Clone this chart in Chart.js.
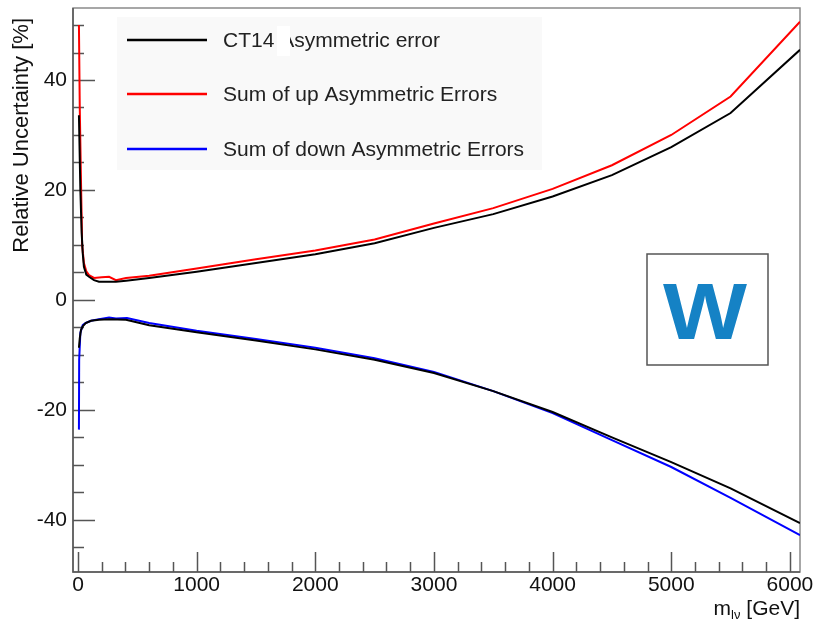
<!DOCTYPE html>
<html>
<head>
<meta charset="utf-8">
<script src="https://cdn.jsdelivr.net/npm/chart.js@4.4.1/dist/chart.umd.min.js"></script>
<style>
    html, body { margin: 0; padding: 0; background: #fff; }
    #wrap { width: 814px; height: 623px; }
</style>
</head>
<body>
<div id="wrap"><canvas id="chart"></canvas></div>
<script>
// Series data (x in GeV, y in %)
const ct14UpX   = [8, 20, 31, 40, 50, 70, 93, 135, 177, 250, 320, 405, 600, 1000, 1500, 2000, 2500, 3000, 3500, 4000, 4500, 5000, 5500, 6085];
const ct14UpY   = [33.6, 20.0, 12.2, 8.5, 6.0, 4.6, 4.2, 3.6, 3.3, 3.3, 3.3, 3.5, 4.0, 5.1, 6.7, 8.3, 10.3, 13.1, 15.6, 18.8, 22.7, 27.8, 34.0, 45.5];
const ct14DownX = [8, 15, 25, 40, 65, 110, 177, 262, 405, 600, 1000, 1500, 2000, 2500, 3000, 3500, 4000, 4500, 5000, 5500, 6085];
const ct14DownY = [-8.7, -7.0, -5.5, -4.8, -4.2, -3.8, -3.6, -3.5, -3.6, -4.6, -5.9, -7.4, -9.0, -10.9, -13.3, -16.6, -20.4, -25.0, -29.5, -34.3, -40.6];
const sumUpX    = [8, 15, 25, 35, 50, 70, 93, 135, 200, 262, 320, 405, 600, 1000, 1500, 2000, 2500, 3000, 3500, 4000, 4500, 5000, 5500, 6085];
const sumUpY    = [50.0, 35.0, 22.0, 10.0, 6.7, 5.2, 4.5, 4.0, 4.1, 4.2, 3.6, 4.0, 4.4, 5.7, 7.4, 9.0, 11.0, 13.9, 16.7, 20.2, 24.5, 30.0, 37.0, 50.6];
const sumDownX  = [8, 10, 20, 40, 65, 110, 177, 262, 320, 413, 600, 1000, 1500, 2000, 2500, 3000, 3500, 4000, 4500, 5000, 5500, 6085];
const sumDownY  = [-23.6, -10.9, -6.0, -4.6, -4.2, -3.8, -3.5, -3.2, -3.4, -3.3, -4.2, -5.6, -7.1, -8.7, -10.6, -13.1, -16.6, -20.6, -25.5, -30.4, -36.0, -42.8];

const seriesLabels = ['CT14 Asymmetric error', 'Sum of up Asymmetric Errors', 'Sum of down Asymmetric Errors'];
const seriesColors = ['#000000', '#ff0000', '#0000ff'];
const xTicks = [0, 1000, 2000, 3000, 4000, 5000, 6000];
const yTicks = [-40, -20, 0, 20, 40];

const FONT = '"Liberation Sans", Arial, Helvetica, sans-serif';
const toPoints = (xs, ys) => xs.map((x, i) => ({ x: x, y: ys[i] }));

function lineSet(label, xs, ys, color) {
    return {
        label: label,
        data: toPoints(xs, ys),
        borderColor: color,
        backgroundColor: color,
        borderWidth: 2,
        pointRadius: 0,
        tension: 0,
        fill: false,
    };
}

// ROOT-style frame, inward ticks, titles, legend and the W box
const rootStyle = {
    id: 'rootStyle',
    beforeDatasetsDraw(chart) {
        const { ctx, chartArea: a, scales: { x, y } } = chart;
        ctx.save();
        ctx.strokeStyle = '#8a8a8a';
        ctx.lineWidth = 1.5;
        ctx.strokeRect(a.left, a.top, a.right - a.left, a.bottom - a.top);

        ctx.strokeStyle = '#555';
        ctx.lineWidth = 1.5;
        ctx.beginPath();
        ctx.moveTo(a.left, a.top); ctx.lineTo(a.left, a.bottom); ctx.lineTo(a.right, a.bottom);
        ctx.stroke();

        // y ticks: minor every 5, major at labels
        ctx.beginPath();
        for (let v = Math.ceil(y.min / 5) * 5; v <= y.max; v += 5) {
            const py = Math.round(y.getPixelForValue(v)) + 0.5;
            const len = yTicks.includes(v) ? 22 : 11;
            ctx.moveTo(a.left, py); ctx.lineTo(a.left + len, py);
        }
        // x ticks: minor every 200, major at labels
        for (let v = 0; v <= x.max; v += 200) {
            const px = Math.round(x.getPixelForValue(v)) + 0.5;
            const len = xTicks.includes(v) ? 20 : 10;
            ctx.moveTo(px, a.bottom); ctx.lineTo(px, a.bottom - len);
        }
        ctx.stroke();
        ctx.restore();
    },
    afterDraw(chart) {
        const { ctx, chartArea: a } = chart;
        ctx.save();

        // y title, aligned to the top like ROOT
        ctx.fillStyle = '#111';
        ctx.font = '22px ' + FONT;
        ctx.translate(28, 18);
        ctx.rotate(-Math.PI / 2);
        ctx.textAlign = 'right';
        ctx.textBaseline = 'alphabetic';
        ctx.fillText('Relative Uncertainty [%]', 0, 0);
        ctx.setTransform(1, 0, 0, 1, 0, 0);

        // x title with subscript, right aligned
        const base = 615;
        ctx.textAlign = 'left';
        ctx.font = '21px ' + FONT;
        const tail = ' [GeV]';
        const wTail = ctx.measureText(tail).width;
        ctx.font = '13px ' + FONT;
        const sub = 'l\u03bd';
        const wSub = ctx.measureText(sub).width;
        ctx.font = '21px ' + FONT;
        const wM = ctx.measureText('m').width;
        let xs = a.right - wTail - wSub - wM;
        ctx.fillText('m', xs, base);
        ctx.font = '13px ' + FONT;
        ctx.fillText(sub, xs + wM, base + 4);
        ctx.font = '21px ' + FONT;
        ctx.fillText(tail, xs + wM + wSub, base);

        // legend
        ctx.fillStyle = '#f9f9f9';
        ctx.fillRect(117, 17, 425, 153);
        const rows = [40, 94, 149];
        ctx.font = '21px ' + FONT;
        ctx.textBaseline = 'middle';
        rows.forEach((ry, i) => {
            ctx.strokeStyle = seriesColors[i];
            ctx.lineWidth = 2.5;
            ctx.beginPath();
            ctx.moveTo(127, ry); ctx.lineTo(207, ry);
            ctx.stroke();
            ctx.fillStyle = '#222';
            ctx.fillText(seriesLabels[i], 223, ry + 1);
        });
        // the reference has a patch hiding most of the first "A"
        ctx.fillStyle = '#fff';
        ctx.fillRect(277, 26, 13, 30);

        // W box
        ctx.strokeStyle = '#555';
        ctx.lineWidth = 1.5;
        ctx.fillStyle = '#fff';
        ctx.fillRect(647, 254, 121, 111);
        ctx.strokeRect(647, 254, 121, 111);
        ctx.font = 'bold 80px ' + FONT;
        ctx.textBaseline = 'alphabetic';
        const wW = ctx.measureText('W').width;
        ctx.fillStyle = '#1582c5';
        ctx.translate(663, 339);
        ctx.scale(84 / wW, 1);
        ctx.fillText('W', 0, 0);
        ctx.restore();
    }
};

new Chart(document.getElementById('chart').getContext('2d'), {
    type: 'line',
    data: {
        datasets: [
            lineSet(seriesLabels[0], ct14UpX, ct14UpY, seriesColors[0]),
            lineSet(seriesLabels[0], ct14DownX, ct14DownY, seriesColors[0]),
            lineSet(seriesLabels[1], sumUpX, sumUpY, seriesColors[1]),
            lineSet(seriesLabels[2], sumDownX, sumDownY, seriesColors[2]),
        ]
    },
    options: {
        responsive: true,
        maintainAspectRatio: false,
        animation: false,
        devicePixelRatio: 1,
        layout: { padding: { top: 8, right: 14, left: 0, bottom: 0 } },
        plugins: {
            legend: { display: false },
            tooltip: { enabled: false },
        },
        scales: {
            x: {
                type: 'linear',
                min: -42,
                max: 6085,
                grid: { display: false, drawTicks: false },
                border: { display: false },
                afterBuildTicks: s => { s.ticks = xTicks.map(v => ({ value: v })); },
                afterFit: s => { s.height = 51; s.paddingLeft = 0; s.paddingRight = 0; },
                ticks: {
                    color: '#111',
                    font: { family: FONT, size: 21 },
                    padding: 1,
                    maxRotation: 0,
                    autoSkip: false,
                    callback: v => String(v),
                }
            },
            y: {
                min: -49.5,
                max: 53.1,
                grid: { display: false, drawTicks: false },
                border: { display: false },
                afterBuildTicks: s => { s.ticks = yTicks.map(v => ({ value: v })); },
                afterFit: s => { s.width = 73; s.paddingTop = 0; s.paddingBottom = 0; },
                ticks: {
                    color: '#111',
                    font: { family: FONT, size: 21 },
                    padding: 6,
                    callback: v => String(v),
                }
            }
        }
    },
    plugins: [rootStyle]
});
</script>
</body>
</html>
